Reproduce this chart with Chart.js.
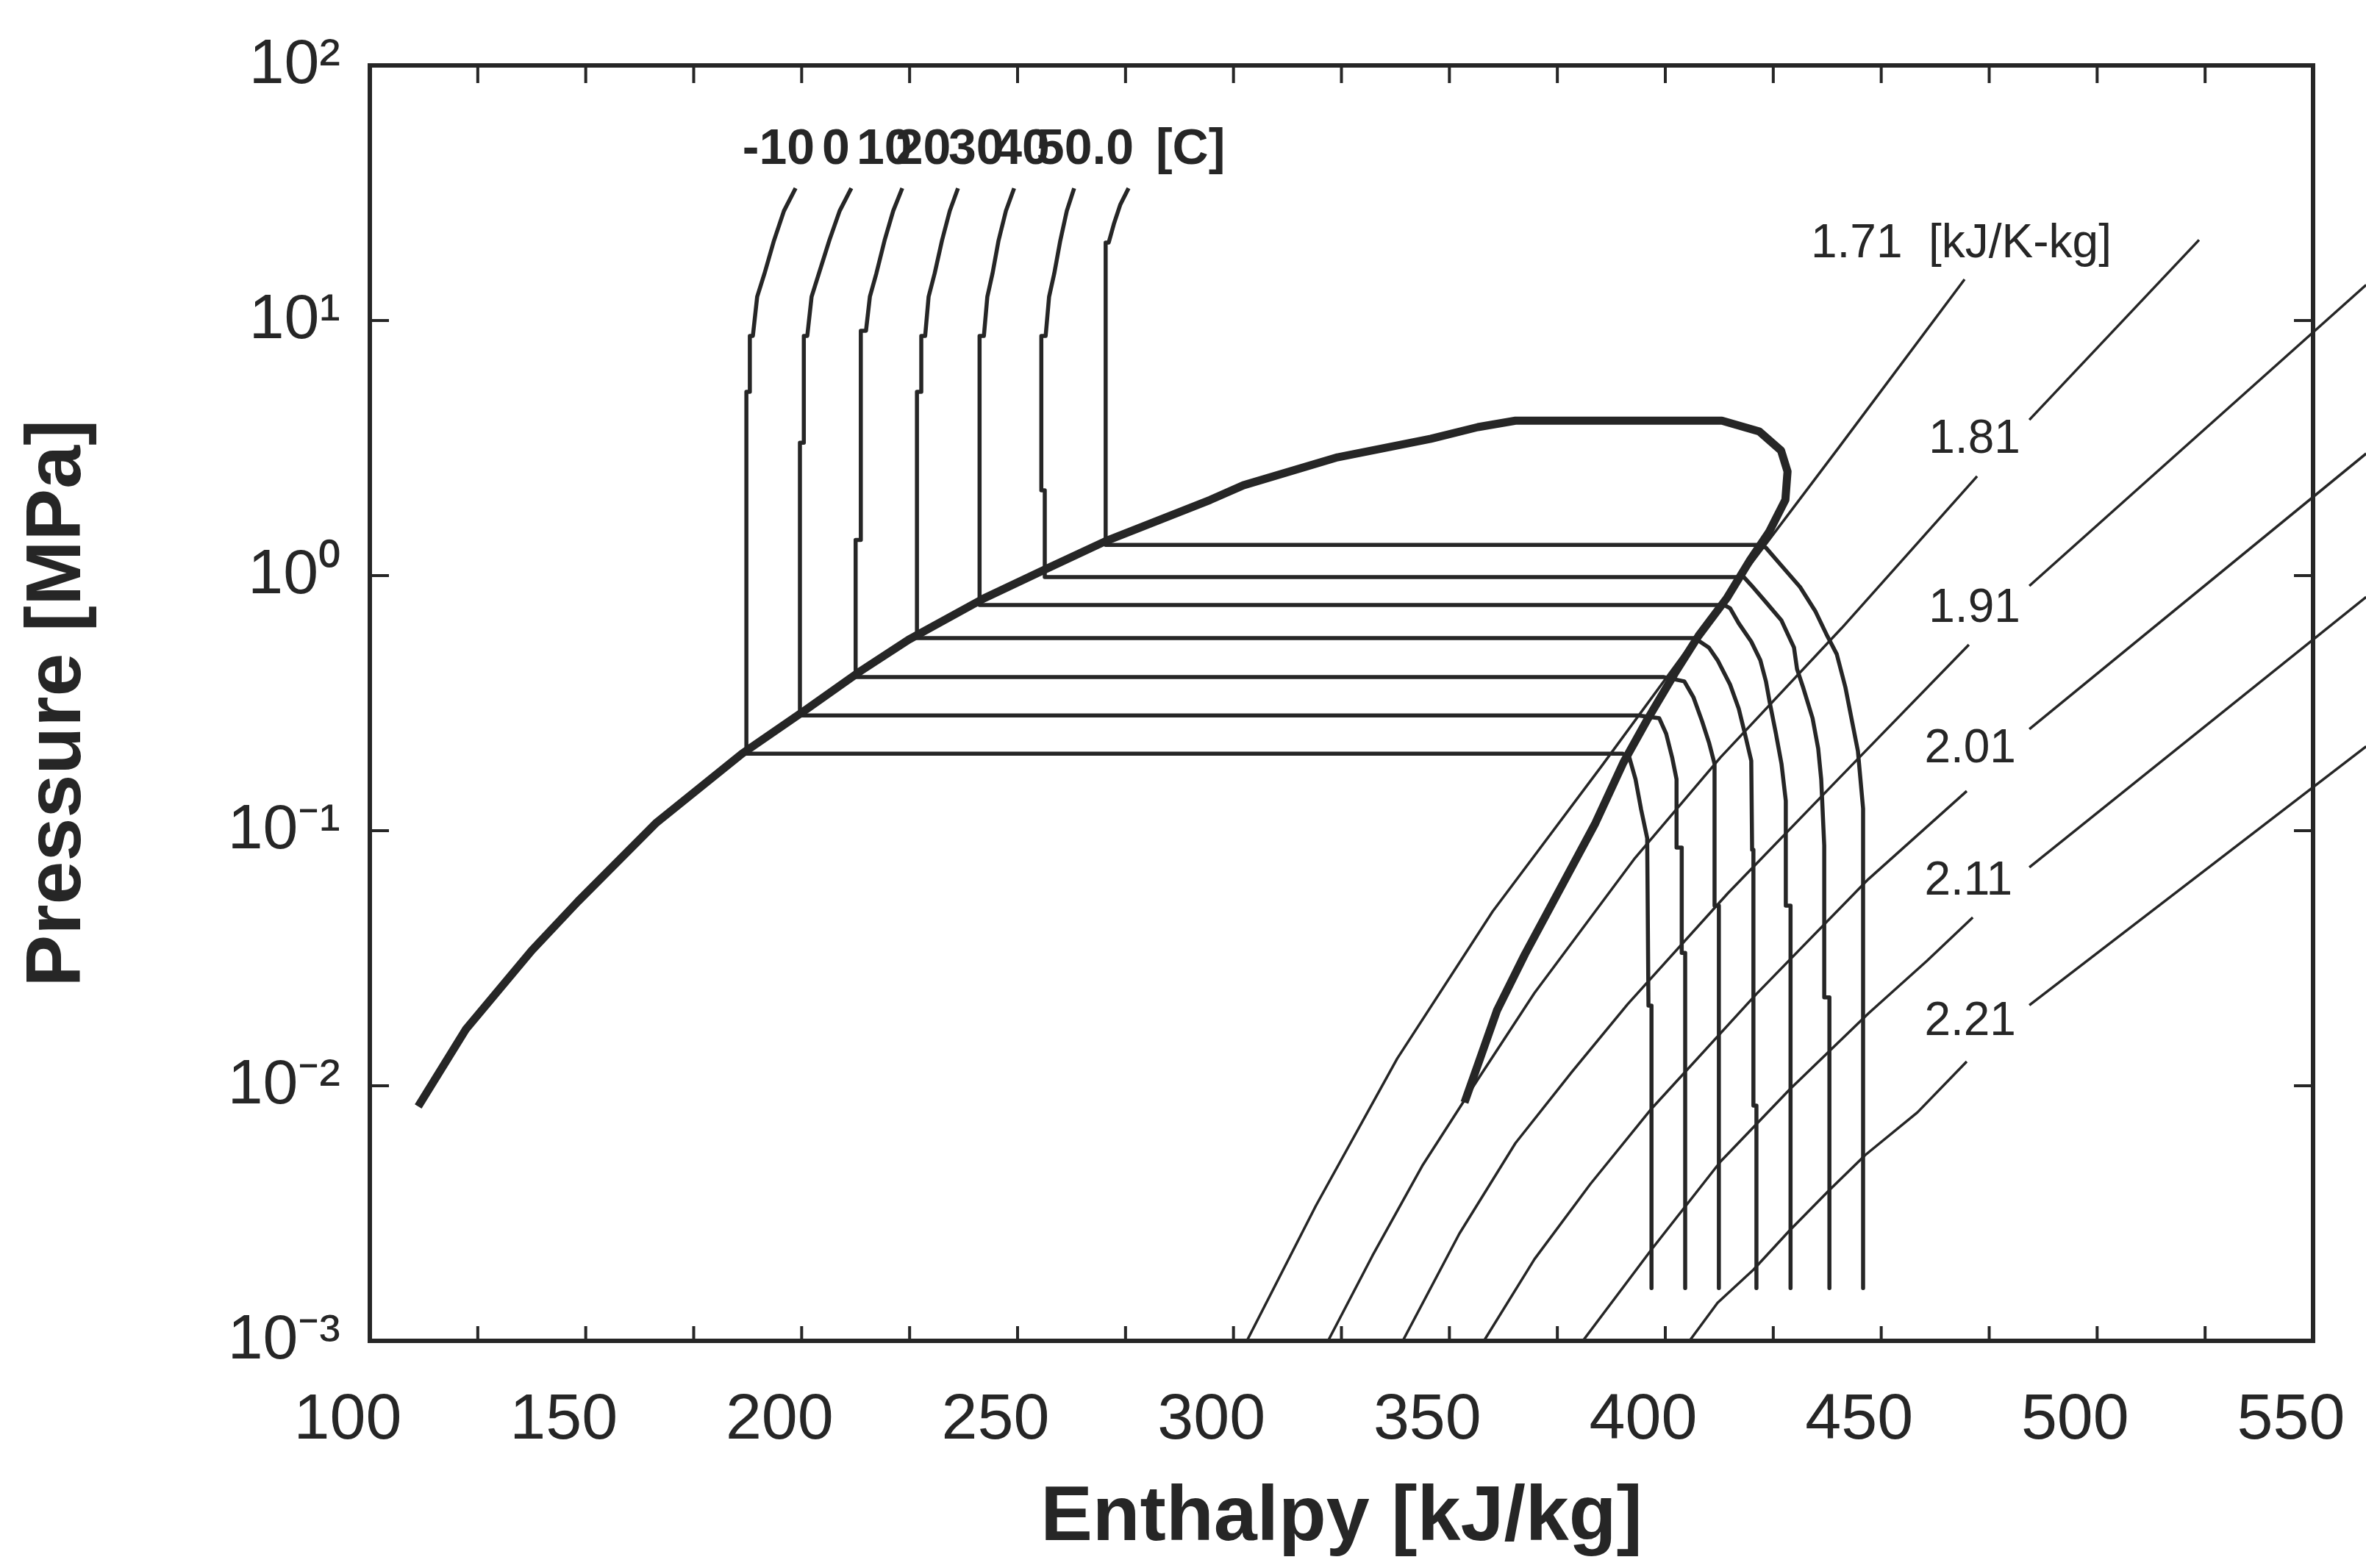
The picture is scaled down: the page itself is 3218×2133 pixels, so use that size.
<!DOCTYPE html>
<html>
<head>
<meta charset="utf-8">
<title>Pressure - enthalpy diagram</title>
<script src="https://cdn.jsdelivr.net/npm/chart.js@4.4.0/dist/chart.umd.min.js"></script>
<style>
  html, body { margin: 0; padding: 0; background: #fff; }
  canvas { display: block; }
</style>
</head>
<body>
<canvas id="chart" width="3218" height="2133" style="width:3218px;height:2133px"></canvas>
<script>
// all points are [enthalpy kJ/kg, pressure MPa]

// saturation dome (liquid side, top, vapour side)
const satDome = [
  [111.2, 0.0083], [122.3, 0.0167], [137.5, 0.0339], [148.2, 0.0528], [166.4, 0.1076],
  [186.2, 0.2005], [200.6, 0.295], [213.6, 0.422], [224.8, 0.561], [242.2, 0.814],
  [256.6, 1.062], [270.4, 1.365], [294.6, 1.98], [302.3, 2.26], [324.1, 2.91],
  [345.7, 3.44], [356.6, 3.82], [365.3, 4.05], [413.1, 4.05], [421.8, 3.67],
  [426.8, 3.09], [428.3, 2.56], [427.8, 1.98], [424.0, 1.48], [419.6, 1.148],
  [414.2, 0.814], [407.7, 0.581], [402.2, 0.414], [395.8, 0.272], [390.3, 0.185],
  [383.8, 0.107], [376.2, 0.0616], [367.5, 0.0328], [361.0, 0.0197], [356.6, 0.0121],
  [353.5, 0.0086]
];

// isotherms -10 .. 50 C
const isoM10 = [
  [198.6, 33.0], [195.9, 26.9], [193.6, 20.6], [191.4, 15.3], [189.7, 12.4], [188.7, 8.70],
  [188.0, 8.70], [188.0, 5.25], [187.2, 5.25], [187.2, 0.2005],
  [390.1, 0.2005], [391.7, 0.193], [393.1, 0.159], [394.4, 0.121], [395.8, 0.0935],
  [396.1, 0.0206], [396.8, 0.0206], [396.8, 0.00161]
];
const iso0 = [
  [211.5, 33.0], [208.8, 26.9], [206.4, 20.6], [204.0, 15.3], [202.3, 12.4], [201.3, 8.70],
  [200.5, 8.70], [200.5, 3.32], [199.6, 3.32], [199.6, 0.283],
  [393.7, 0.283], [398.6, 0.276], [400.2, 0.240], [401.6, 0.193], [402.6, 0.159],
  [402.6, 0.0858], [403.8, 0.0858], [403.8, 0.0332], [404.6, 0.0332], [404.6, 0.00161]
];
const iso10 = [
  [223.3, 33.0], [221.2, 26.9], [219.2, 20.6], [217.3, 15.3], [215.8, 12.4], [214.9, 9.12],
  [213.7, 9.12], [213.7, 1.38], [212.5, 1.38], [212.5, 0.400],
  [399.7, 0.400], [404.4, 0.385], [406.5, 0.334], [408.5, 0.269], [410.1, 0.222],
  [411.4, 0.183], [411.4, 0.0508], [412.4, 0.0508], [412.4, 0.00161]
];
const iso20 = [
  [236.2, 33.0], [234.3, 26.9], [232.5, 20.6], [230.8, 15.3], [229.4, 12.4], [228.6, 8.70],
  [227.7, 8.70], [227.7, 5.25], [226.7, 5.25], [226.7, 0.569],
  [406.8, 0.569], [410.1, 0.522], [412.1, 0.466], [415.0, 0.374], [417.0, 0.301],
  [418.4, 0.241], [419.9, 0.188], [420.1, 0.0841], [420.4, 0.0841], [420.4, 0.00836],
  [421.1, 0.00836], [421.1, 0.00161]
];
const iso30 = [
  [249.2, 33.0], [247.3, 26.9], [245.6, 20.6], [244.2, 15.3], [243.0, 12.4], [242.2, 8.70],
  [241.2, 8.70], [241.2, 0.767],
  [413.6, 0.767], [415.0, 0.745], [417.0, 0.650], [419.9, 0.551], [422.0, 0.466],
  [423.3, 0.385], [424.2, 0.317], [425.6, 0.241], [426.9, 0.183], [427.9, 0.131],
  [427.9, 0.0508], [429.0, 0.0508], [429.0, 0.00161]
];
const iso40 = [
  [263.1, 33.0], [261.4, 26.9], [259.9, 20.6], [258.5, 15.3], [257.3, 12.4], [256.5, 8.70],
  [255.5, 8.70], [255.5, 2.16], [256.3, 2.16], [256.3, 0.986],
  [418.2, 0.986], [419.9, 0.917], [423.3, 0.787], [426.9, 0.667], [429.8, 0.522],
  [430.5, 0.430], [431.9, 0.365], [434.1, 0.276], [435.4, 0.210], [436.1, 0.159],
  [436.8, 0.0875], [436.8, 0.0222], [438.0, 0.0222], [438.0, 0.00161]
];
const iso50 = [
  [275.7, 33.0], [273.8, 28.5], [272.3, 23.9], [271.1, 20.2], [270.4, 20.2], [270.4, 1.32],
  [422.1, 1.32], [423.3, 1.286], [426.9, 1.094], [431.2, 0.902], [434.8, 0.722],
  [437.5, 0.580], [439.7, 0.492], [441.7, 0.365], [443.1, 0.276], [444.6, 0.205],
  [445.8, 0.122], [445.8, 0.00161]
];

// isentropes (kJ/K-kg), split where the inline label sits
const s171 = [[303.1, 0.001], [319.1, 0.00339], [337.9, 0.01277], [360.0, 0.0482], [385.5, 0.1816], [411.1, 0.708], [440.0, 3.15], [469.3, 14.5]];
const s181Lo = [[321.9, 0.001], [332.2, 0.00216], [343.7, 0.00485], [356.6, 0.0106], [369.7, 0.0231], [382.6, 0.0454], [393.0, 0.0782], [412.8, 0.194], [440.9, 0.624], [472.2, 2.45]];
const s181Hi = [[484.3, 4.08], [523.6, 20.7]];
const s191Lo = [[339.2, 0.001], [352.3, 0.00263], [365.3, 0.00596], [378.4, 0.01135], [391.3, 0.0209], [414.5, 0.0569], [440.0, 0.159], [470.3, 0.536]];
const s191Hi = [[484.3, 0.911], [562.3, 13.8]];
const s201Lo = [[358.0, 0.001], [369.7, 0.00209], [382.6, 0.00411], [396.8, 0.00813], [421.1, 0.0229], [447.0, 0.0645], [469.8, 0.143]];
const s201Hi = [[484.3, 0.250], [562.3, 3.01]];
const s211Lo = [[380.9, 0.001], [396.8, 0.00228], [412.8, 0.00505], [428.8, 0.00967], [447.0, 0.0192], [460.6, 0.0309], [471.2, 0.0457]];
const s211Hi = [[484.3, 0.0718], [562.3, 0.825]];
const s221Lo = [[405.6, 0.001], [412.1, 0.00141], [420.4, 0.00190], [428.8, 0.00271], [437.8, 0.00387], [446.3, 0.00535], [458.4, 0.00787], [469.8, 0.01245]];
const s221Hi = [[484.3, 0.0207], [562.3, 0.214]];

// labels
const tempLabels = ['-10', '0', '10', '20', '30', '40', '50.0', '[C]'];
const tempLabelH = [186.3, 204.7, 212.7, 221.7, 234.0, 244.6, 254.4, 282.0];
const tempLabelP = 46.6;
const entLabels = ['1.71  [kJ/K-kg]', '1.81', '1.91', '2.01', '2.11', '2.21'];
const entLabelH = [433.7, 461.0, 461.0, 460.0, 460.0, 460.0];
const entLabelP = [19.9, 3.41, 0.741, 0.209, 0.0632, 0.0178];

// axes
const yTickValues = [0.001, 0.01, 0.1, 1, 10, 100];
const xMin = 100, xMax = 550;

const INK = '#262626';
const FONT = "'Liberation Sans', Arial, sans-serif";
const NARROW = "'Liberation Sans Narrow', 'Liberation Sans', Arial, sans-serif";
const SUP = { '-': '\u207B', '0': '\u2070', '1': '\u00B9', '2': '\u00B2', '3': '\u00B3' };

function line(points, width, clip) {
    return {
        data: points.map(p => ({ x: p[0], y: p[1] })),
        showLine: true,
        borderColor: INK,
        borderWidth: width,
        borderJoinStyle: 'round',
        pointRadius: 0,
        fill: false,
        clip: clip ? undefined : false
    };
}

// first dataset is drawn on top
const datasets = [
    line(satDome, 11, true),
    ...[isoM10, iso0, iso10, iso20, iso30, iso40, iso50].map(p => line(p, 5.5, true)),
    line(s171, 3.5, true), line(s181Lo, 3.5, true), line(s181Hi, 3.5, true),
    line(s191Lo, 3.5, true), line(s191Hi, 3.5, false),
    line(s201Lo, 3.5, true), line(s201Hi, 3.5, false),
    line(s211Lo, 3.5, true), line(s211Hi, 3.5, false),
    line(s221Lo, 3.5, true), line(s221Hi, 3.5, false)
];

// frame with inward tick marks
const framePlugin = {
    id: 'frame',
    afterDraw(chart) {
        const { ctx, chartArea: a, scales: { x, y } } = chart;
        ctx.save();
        ctx.strokeStyle = INK;
        ctx.lineWidth = 4;
        ctx.beginPath();
        x.ticks.forEach(t => {
            if (t.value <= xMin || t.value >= xMax) return;
            const px = x.getPixelForValue(t.value);
            ctx.moveTo(px, a.bottom); ctx.lineTo(px, a.bottom - 20);
            ctx.moveTo(px, a.top); ctx.lineTo(px, a.top + 24);
        });
        y.ticks.forEach(t => {
            if (t.value <= 0.001 || t.value >= 100) return;
            const py = y.getPixelForValue(t.value);
            ctx.moveTo(a.left, py); ctx.lineTo(a.left + 26, py);
            ctx.moveTo(a.right, py); ctx.lineTo(a.right - 26, py);
        });
        ctx.stroke();
        ctx.lineWidth = 6;
        ctx.strokeRect(a.left, a.top, a.right - a.left, a.bottom - a.top);
        ctx.restore();
    }
};

// inline labels of isotherms and isentropes
const labelPlugin = {
    id: 'curveLabels',
    afterDatasetsDraw(chart) {
        const { ctx, scales: { x, y } } = chart;
        ctx.save();
        ctx.fillStyle = INK;
        ctx.textAlign = 'left';
        ctx.textBaseline = 'middle';
        ctx.font = 'bold 68px ' + FONT;
        tempLabels.forEach((t, i) => {
            ctx.fillText(t, x.getPixelForValue(tempLabelH[i]), y.getPixelForValue(tempLabelP));
        });
        ctx.font = '64px ' + FONT;
        entLabels.forEach((t, i) => {
            ctx.fillText(t, x.getPixelForValue(entLabelH[i]), y.getPixelForValue(entLabelP[i]));
        });
        ctx.restore();
    }
};

new Chart(document.getElementById('chart'), {
    type: 'scatter',
    data: { datasets },
    options: {
        responsive: false,
        animation: false,
        events: [],
        layout: { padding: { top: 89, right: 72, left: 0, bottom: 0 } },
        plugins: { legend: { display: false }, tooltip: { enabled: false } },
        scales: {
            x: {
                type: 'linear',
                min: xMin,
                max: xMax,
                afterFit(s) { s.height = 309; s.paddingLeft = 0; s.paddingRight = 0; },
                grid: { display: false, drawTicks: false },
                border: { display: false },
                ticks: {
                    stepSize: 25,
                    autoSkip: false,
                    maxRotation: 0,
                    padding: 56,
                    labelOffset: -30,
                    color: INK,
                    font: { family: NARROW, size: 88 },
                    callback: v => (v % 50 === 0 ? String(v) : '')
                },
                title: {
                    display: true,
                    text: 'Enthalpy [kJ/kg]',
                    color: INK,
                    font: { family: FONT, size: 106, weight: 'bold' },
                    padding: { top: 0, bottom: 4 }
                }
            },
            y: {
                type: 'logarithmic',
                min: 0.001,
                max: 100,
                afterFit(s) { s.width = 503; s.paddingTop = 0; s.paddingBottom = 0; },
                afterBuildTicks(s) { s.ticks = yTickValues.map(value => ({ value })); },
                grid: { display: false, drawTicks: false },
                border: { display: false },
                ticks: {
                    padding: 40,
                    color: INK,
                    font: { family: FONT, size: 86 },
                    callback: v => '10' + String(Math.round(Math.log10(v))).split('').map(c => SUP[c]).join('')
                },
                title: {
                    display: true,
                    text: 'Pressure [MPa]',
                    color: INK,
                    font: { family: FONT, size: 106, weight: 'bold' },
                    padding: { top: 16, bottom: 0 }
                }
            }
        }
    },
    plugins: [framePlugin, labelPlugin]
});
</script>
</body>
</html>
